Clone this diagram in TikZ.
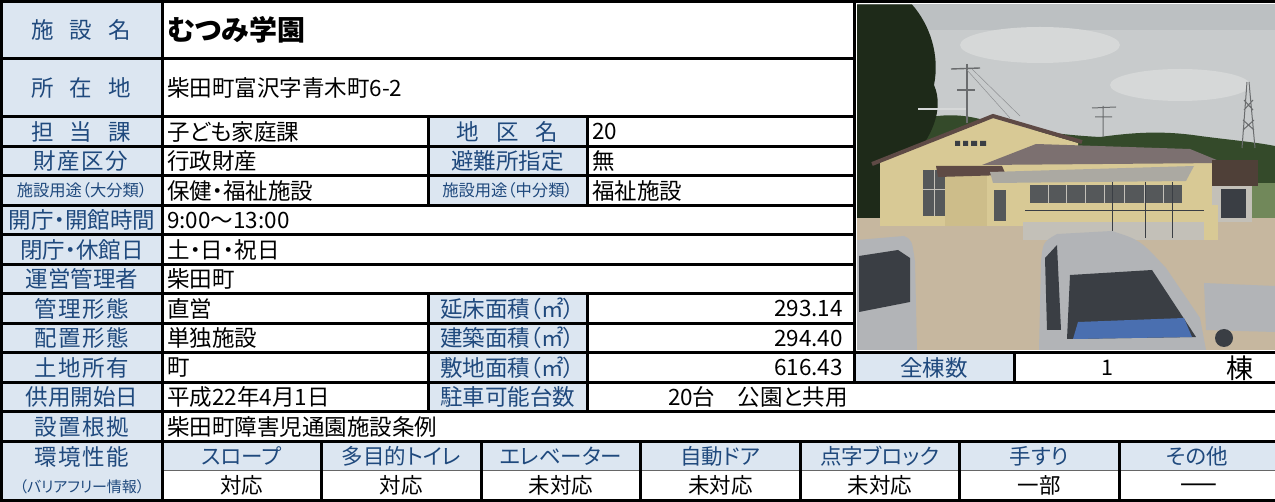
\documentclass[tikz,border=0pt]{standalone}
\usepackage{fontspec}
\setmainfont{Noto Sans CJK JP}[RawFeature=+palt]
\definecolor{labbg}{HTML}{DCE6F1}
\definecolor{labtx}{HTML}{1F497D}
\definecolor{skyc}{HTML}{C8CBCC}
\definecolor{skyd}{HTML}{BCC0C2}
\definecolor{cloud}{HTML}{D6D8D8}
\definecolor{treec}{HTML}{1E2A19}
\definecolor{hillc}{HTML}{344A2A}
\definecolor{fieldc}{HTML}{71885A}
\definecolor{wallc}{HTML}{D8C995}
\definecolor{wallsh}{HTML}{CDBD8A}
\definecolor{roofc}{HTML}{5E4A45}
\definecolor{roofb}{HTML}{7C7070}
\definecolor{canopyc}{HTML}{ABA9A2}
\definecolor{winc}{HTML}{55585A}
\definecolor{annexc}{HTML}{4F4038}
\definecolor{concc}{HTML}{C3C0B8}
\definecolor{groundc}{HTML}{C6B79F}
\definecolor{silverc}{HTML}{B2B4B7}
\definecolor{darkc}{HTML}{3A3E44}
\definecolor{coverc}{HTML}{4A6FB0}
\definecolor{polec}{HTML}{6A6C6E}
\definecolor{wirec}{HTML}{8E9092}
\tikzset{
  lab/.style={font=\fontsize{22.5}{26}\selectfont, text=labtx, inner sep=0pt, anchor=center},
  labs/.style={font=\fontsize{16.3}{19}\selectfont, text=labtx, inner sep=0pt, anchor=center},
  val/.style={font=\fontsize{22.5}{26}\selectfont, text=black, inner sep=0pt, anchor=west},
  valr/.style={font=\fontsize{22.5}{26}\selectfont, text=black, inner sep=0pt, anchor=east},
  hd/.style={font=\fontsize{21.5}{25}\selectfont, text=labtx, inner sep=0pt, anchor=center},
  cv/.style={font=\fontsize{21.5}{25}\selectfont, text=black, inner sep=0pt, anchor=center},
  gridline/.style={line width=3pt, black},
  thinline/.style={line width=1pt, black!60},
  pole/.style={polec, line width=1.4pt}
}
\begin{document}
\begin{tikzpicture}[x=1pt,y=-1pt]
\useasboundingbox (0,0) rectangle (1275,502);
\fill[white] (0,0) rectangle (1275,502);
% ---------- label fills ----------
\fill[labbg] (0,0) rectangle (162,500);
\fill[labbg] (428,117) rectangle (587,205.5);
\fill[labbg] (428,294) rectangle (587,412);
\fill[labbg] (854,353) rectangle (1014,382.5);
\fill[labbg] (162,441.5) rectangle (1275,471);
% ---------- photo ----------
\begin{scope}
\clip (857,4.5) rectangle (1275,349.5);
\fill[skyc] (857,4.5) rectangle (1275,220);
\fill[skyd] (857,4.5) rectangle (1275,30);
\fill[cloud] (1040,45) ellipse (80 and 18);
\fill[cloud] (1180,85) ellipse (70 and 16);
% hills
\fill[hillc] (890,130) .. controls (930,112) and (960,112) .. (990,122)
  .. controls (1030,130) and (1060,135) .. (1100,137)
  .. controls (1130,133) and (1160,130) .. (1200,136)
  .. controls (1230,140) and (1255,142) .. (1275,146) -- (1275,218) -- (890,218) -- cycle;
\fill[fieldc] (1240,183) rectangle (1275,218);
% tree
\fill[treec] (857,4.5) -- (912,4.5) .. controls (930,25) and (940,55) .. (934,85)
  .. controls (945,110) and (930,140) .. (912,158) .. controls (895,175) and (885,200) .. (880,218) -- (857,218) -- cycle;
% utility pole, antenna, pylon
\draw[pole] (967,64) -- (967,123);
\draw[pole] (951,69) -- (980,68);
\draw[pole] (957,90) -- (975,90);
\draw[wirec, line width=.5pt] (967,70) -- (1010,118) (972,69) -- (1020,116);
\draw[cloud, line width=2pt] (918,109) -- (966,109);
\draw[pole, line width=1pt] (1103,106) -- (1103,137) (1092,108) -- (1116,107) (1095,117) -- (1112,117);
\draw[pole, line width=1pt] (1247,82) -- (1242,148) (1249,82) -- (1255,148)
  (1244,100) -- (1253,110) (1253,100) -- (1244,110) (1243,120) -- (1254,130) (1254,120) -- (1243,130);
% ground
\fill[groundc] (857,218) rectangle (1275,350);
% gable building
\fill[wallc] (880,162) -- (993,118) -- (1078,143) -- (1078,226) -- (880,226) -- cycle;
\draw[roofc, line width=4pt] (872,164) -- (993,116) -- (1082,142);
\fill[winc] (923,170) rectangle (946,216);
\draw[concc, line width=1pt] (934.5,170) -- (934.5,216) (923,190) -- (946,190);
\fill[darkc] (955,141) rectangle (960,146) (963,141) rectangle (968,146) (971,141) rectangle (977,146) (980,141) rectangle (986,146);
% hipped roof wing
\fill[wallc] (985,160) rectangle (1215,226);
\fill[roofb] (982,165) -- (1036,144) -- (1190,149) -- (1224,163) -- cycle;
\fill[wallsh] (945,172) rectangle (987,226);
\fill[roofc] (936,166) -- (1002,166) -- (1006,175) -- (938,177) -- cycle;
\fill[canopyc] (990,172) -- (1194,166) -- (1186,181) -- (993,183) -- cycle;
\fill[winc] (1030,185) rectangle (1182,203);
\draw[concc, line width=1pt] (1048,185) -- (1048,203) (1066,185) -- (1066,203) (1085,185) -- (1085,203)
  (1104,185) -- (1104,203) (1124,185) -- (1124,203) (1144,185) -- (1144,203) (1163,185) -- (1163,203);
\fill[winc] (994,190) rectangle (1006,221);
\fill[annexc] (1212,160) rectangle (1258,186);
\fill[concc] (1212,186) rectangle (1252,222);
\fill[darkc] (1221,189) rectangle (1246,218);
\fill[concc] (1023,222) rectangle (1208,240);
\draw[darkc, line width=.6pt] (1025,210) -- (1205,210);
\draw[darkc, line width=.8pt] (1112,182) -- (1112,232) (1145,182) -- (1145,238) (1172,182) -- (1172,238);
\fill[wallc] (1204,205) rectangle (1218,240);
% cars
\fill[silverc] (857,240) -- (904,236) .. controls (912,240) .. (915,262) -- (917,350) -- (857,350) -- cycle;
\fill[darkc] (859,256) -- (898,250) -- (910,258) -- (910,302) -- (859,312) -- cycle;
\fill[silverc] (1039,350) -- (1041,262) .. controls (1043,242) .. (1057,234) -- (1112,231)
  .. controls (1140,240) .. (1166,268) -- (1200,318) -- (1206,350) -- cycle;
\fill[darkc] (1067,339) -- (1070,275) -- (1152,270) -- (1196,337) -- cycle;
\fill[coverc] (1078,322) -- (1184,318) -- (1192,337) -- (1073,339) -- cycle;
\fill[darkc] (1045,258) -- (1057,245) -- (1061,330) -- (1047,330) -- cycle;
\fill[silverc] (1204,283) -- (1275,286) -- (1275,332) -- (1206,330) -- cycle;
\fill[darkc] (1224,338) circle (9);
\end{scope}
% ---------- grid lines ----------
\draw[gridline] (0,1.5) -- (1275,1.5);
\foreach \yy in {59,117,146.5,176,205.5,235,264.5,294,323.5}
  \draw[gridline] (0,\yy) -- (854,\yy);
\foreach \yy in {353,382.5,412,441.5,500}
  \draw[gridline] (0,\yy) -- (1275,\yy);
\draw[thinline] (162,471) -- (1275,471);
\draw[gridline] (1.5,0) -- (1.5,501.5);
\draw[gridline] (162,0) -- (162,501.5);
\draw[gridline] (428,117) -- (428,205.5) (587,117) -- (587,205.5);
\draw[gridline] (428,294) -- (428,412) (587,294) -- (587,412);
\draw[gridline] (854,0) -- (854,382.5);
\draw[gridline] (1014,353) -- (1014,382.5);
\foreach \xx in {321.5,481,640.5,800,959.5,1119}
  \draw[gridline] (\xx,441.5) -- (\xx,501.5);
% ---------- texts: left labels ----------
\node[lab] (l1) at (81,30) {施\hspace{16pt}設\hspace{16pt}名};
\node[lab] (l2) at (81,88) {所\hspace{16pt}在\hspace{16pt}地};
\node[lab] (l3) at (81,131.8) {担\hspace{16pt}当\hspace{16pt}課};
\node[lab] (l4) at (81,161.2) {財\kern1.5pt 産\kern1.5pt 区\kern1.5pt 分};
\node[labs] (l5) at (82,190.8) {施設用途（大分類）};
\node[lab] (l6) at (82,220.2) {開庁・開館時間};
\node[lab] (l7) at (82,249.8) {閉庁・休館日};
\node[lab] (l8) at (82,279.2) {運営管理者};
\node[lab] (l9) at (82,308.8) {管\kern1.5pt 理\kern1.5pt 形\kern1.5pt 態};
\node[lab] (l10) at (82,338.2) {配\kern1.5pt 置\kern1.5pt 形\kern1.5pt 態};
\node[lab] (l11) at (82,367.8) {土\kern1.5pt 地\kern1.5pt 所\kern1.5pt 有};
\node[lab] (l12) at (82,397.2) {供用開始日};
\node[lab] (l13) at (82,426.8) {設\kern1.5pt 置\kern1.5pt 根\kern1.5pt 拠};
\node[lab] (l14) at (82,457) {環\kern1.5pt 境\kern1.5pt 性\kern1.5pt 能};
\node[labs, font=\fontsize{15}{18}\selectfont] (l15) at (82,487) {（バリアフリー情報）};
% ---------- values ----------
\node[val, font=\fontsize{28}{32}\selectfont\bfseries] (v1) at (167,30) {むつみ学園};
\node[val] (v2) at (167,88) {柴田町富沢字青木町6-2};
\node[val] (v3) at (167,131.8) {子ども家庭課};
\node[val] (v4) at (167,161.2) {行政財産};
\node[val] (v5) at (167,190.8) {保健・福祉施設};
\node[val] (v6) at (167,220.2) {9:00～13:00};
\node[val] (v7) at (167,249.8) {土・日・祝日};
\node[val] (v8) at (167,279.2) {柴田町};
\node[val] (v9) at (167,308.8) {直営};
\node[val] (v10) at (167,338.2) {単独施設};
\node[val] (v11) at (167,367.8) {町};
\node[val] (v12) at (167,397.2) {平成22年4月1日};
\node[val] (v13) at (167,426.8) {柴田町障害児通園施設条例};
% ---------- middle labels and values ----------
\node[lab] (m3) at (507.5,131.8) {地\hspace{17pt}区\hspace{17pt}名};
\node[lab] (m4) at (507.5,161.2) {避難所指定};
\node[labs] (m5) at (507.5,190.8) {施設用途（中分類）};
\node[lab] (m9) at (507.5,308.8) {延床面積（㎡）};
\node[lab] (m10) at (507.5,338.2) {建築面積（㎡）};
\node[lab] (m11) at (507.5,367.8) {敷地面積（㎡）};
\node[lab] (m12) at (507.5,397.2) {駐車可能台数};
\node[val] (w3) at (592,131.8) {20};
\node[val] (w4) at (592,161.2) {無};
\node[val] (w5) at (592,190.8) {福祉施設};
\node[valr] (w9) at (843,308.8) {293.14};
\node[valr] (w10) at (843,338.2) {294.40};
\node[valr] (w11) at (843,367.8) {616.43};
\node[valr] (w12) at (848,397.2) {20台　公園と共用};
\node[lab] (t1) at (934,367.8) {全棟数};
\node[cv] (t2) at (1107,367.8) {1};
\node[cv, font=\fontsize{27}{30}\selectfont] (t3) at (1240,367.8) {棟};
% ---------- environment ----------
\node[hd] (h1) at (241.75,456.2) {スロープ};
\node[hd] (h2) at (401.25,456.2) {多目的トイレ};
\node[hd] (h3) at (560.75,456.2) {エレベーター};
\node[hd] (h4) at (720.25,456.2) {自動ドア};
\node[hd] (h5) at (879.75,456.2) {点字ブロック};
\node[hd] (h6) at (1039.25,456.2) {手すり};
\node[hd] (h7) at (1197,456.2) {その他};
\node[cv] (e1) at (241.75,485.5) {対応};
\node[cv] (e2) at (401.25,485.5) {対応};
\node[cv] (e3) at (560.75,485.5) {未対応};
\node[cv] (e4) at (720.25,485.5) {未対応};
\node[cv] (e5) at (879.75,485.5) {未対応};
\node[cv] (e6) at (1039.25,485.5) {一部};
\node[cv, font=\fontsize{24}{26}\selectfont\bfseries] (e7) at (1199,491) {\scalebox{1.7}[1.5]{―}};
\end{tikzpicture}
\end{document}
